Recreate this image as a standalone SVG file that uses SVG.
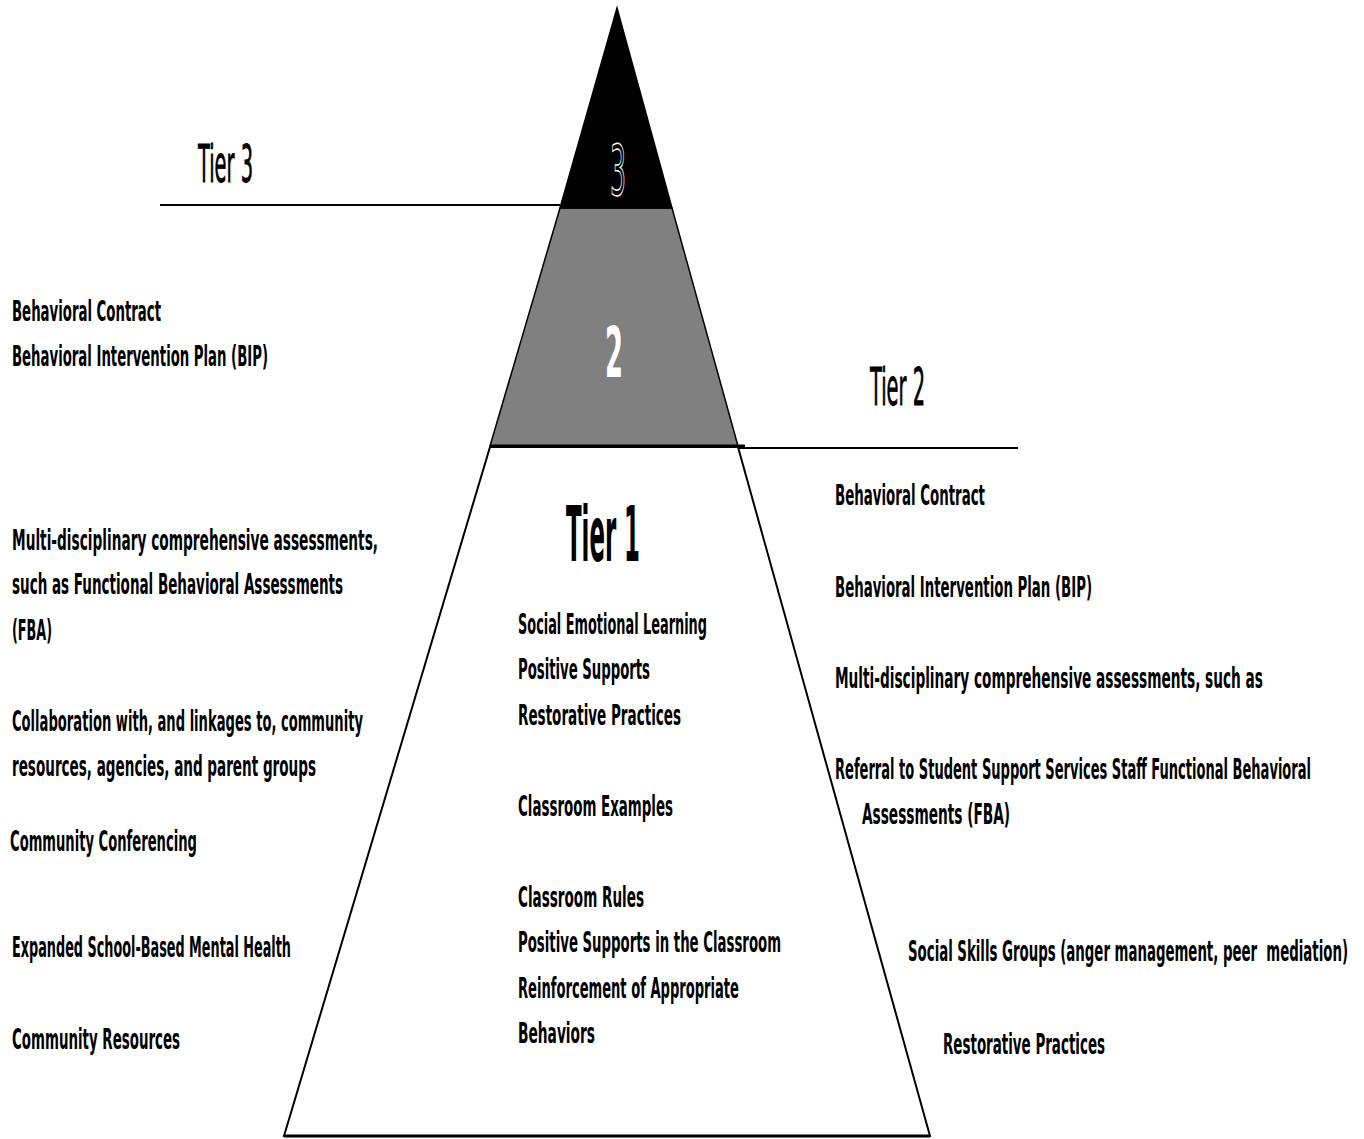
<svg xmlns="http://www.w3.org/2000/svg" width="1364" height="1139" viewBox="0 0 1364 1139">
<style>
.t{font-family:"DejaVu Sans Condensed","DejaVu Sans",sans-serif;font-weight:bold;font-size:29px;fill:#000}
.big{font-family:"DejaVu Sans Condensed","DejaVu Sans",sans-serif;font-weight:bold;fill:#000}
.mid{font-family:"DejaVu Sans Condensed","DejaVu Sans",sans-serif;font-weight:normal;fill:#000}
.ln{stroke:#000;fill:none}
</style>
<rect width="1364" height="1139" fill="#fff"/>
<g id="pyramid">
<g id="tier1-shape"><polygon points="490,447 738,447 930,1136 284,1136" fill="#fff" stroke="#000" stroke-width="2"/><line class="ln" x1="284" y1="1136" x2="930" y2="1136" stroke-width="3"/></g>
<g id="tier2-shape"><polygon points="560,208 672,208 738,446 490,446" fill="#808080" stroke="#000" stroke-width="1.5"/><line class="ln" x1="490" y1="446" x2="745" y2="446" stroke-width="3"/></g>
<g id="tier3-shape"><polygon points="617,8 672,208 560,208" fill="#000" stroke="#000" stroke-width="1.5"/></g>
<text transform="translate(618,195) scale(0.5,1)" text-anchor="middle" class="mid" font-size="70" textLength="32" lengthAdjust="spacingAndGlyphs" fill="#000" stroke="#fff" stroke-width="1.5">3</text>
<text transform="translate(614,377) scale(0.5,1)" text-anchor="middle" class="big" font-size="70" textLength="36" lengthAdjust="spacingAndGlyphs" style="fill:#fff">2</text>
</g>
<g id="connectors">
<line class="ln" x1="160" y1="205" x2="560" y2="205" stroke-width="2"/>
<line class="ln" x1="738" y1="448" x2="1018" y2="448" stroke-width="2"/>
</g>
<g id="tier-labels">
<text class="mid" transform="translate(198,182) scale(0.5,1)" font-size="52" textLength="110" lengthAdjust="spacingAndGlyphs" stroke="#000" stroke-width="0.8">Tier 3</text>
<text class="mid" transform="translate(870,405) scale(0.5,1)" font-size="52" textLength="110" lengthAdjust="spacingAndGlyphs" stroke="#000" stroke-width="0.8">Tier 2</text>
<text class="big" transform="translate(566,561) scale(0.5,1)" font-size="76" textLength="148" lengthAdjust="spacingAndGlyphs">Tier 1</text>
</g>
<g id="left-list">
<text class="t" transform="translate(12,321) scale(0.5,1)" textLength="298" lengthAdjust="spacingAndGlyphs">Behavioral Contract</text>
<text class="t" transform="translate(12,366) scale(0.5,1)" textLength="512" lengthAdjust="spacingAndGlyphs">Behavioral Intervention Plan (BIP)</text>
<text class="t" transform="translate(12,550) scale(0.5,1)" textLength="732" lengthAdjust="spacingAndGlyphs">Multi-disciplinary comprehensive assessments,</text>
<text class="t" transform="translate(12,594) scale(0.5,1)" textLength="662" lengthAdjust="spacingAndGlyphs">such as Functional Behavioral Assessments</text>
<text class="t" transform="translate(12,640) scale(0.5,1)" textLength="80" lengthAdjust="spacingAndGlyphs">(FBA)</text>
<text class="t" transform="translate(12,731) scale(0.5,1)" textLength="702" lengthAdjust="spacingAndGlyphs">Collaboration with, and linkages to, community</text>
<text class="t" transform="translate(12,776) scale(0.5,1)" textLength="608" lengthAdjust="spacingAndGlyphs">resources, agencies, and parent groups</text>
<text class="t" transform="translate(10,851) scale(0.5,1)" textLength="374" lengthAdjust="spacingAndGlyphs">Community Conferencing</text>
<text class="t" transform="translate(12,957) scale(0.5,1)" textLength="558" lengthAdjust="spacingAndGlyphs">Expanded School-Based Mental Health</text>
<text class="t" transform="translate(12,1049) scale(0.5,1)" textLength="336" lengthAdjust="spacingAndGlyphs">Community Resources</text>
</g>
<g id="tier1-list">
<text class="t" transform="translate(518,634) scale(0.5,1)" textLength="378" lengthAdjust="spacingAndGlyphs">Social Emotional Learning</text>
<text class="t" transform="translate(518,679) scale(0.5,1)" textLength="264" lengthAdjust="spacingAndGlyphs">Positive Supports</text>
<text class="t" transform="translate(518,725) scale(0.5,1)" textLength="326" lengthAdjust="spacingAndGlyphs">Restorative Practices</text>
<text class="t" transform="translate(518,816) scale(0.5,1)" textLength="310" lengthAdjust="spacingAndGlyphs">Classroom Examples</text>
<text class="t" transform="translate(518,907) scale(0.5,1)" textLength="252" lengthAdjust="spacingAndGlyphs">Classroom Rules</text>
<text class="t" transform="translate(518,952) scale(0.5,1)" textLength="526" lengthAdjust="spacingAndGlyphs">Positive Supports in the Classroom</text>
<text class="t" transform="translate(518,998) scale(0.5,1)" textLength="442" lengthAdjust="spacingAndGlyphs">Reinforcement of Appropriate</text>
<text class="t" transform="translate(518,1043) scale(0.5,1)" textLength="154" lengthAdjust="spacingAndGlyphs">Behaviors</text>
</g>
<g id="right-list">
<text class="t" transform="translate(835,505) scale(0.5,1)" textLength="300" lengthAdjust="spacingAndGlyphs">Behavioral Contract</text>
<text class="t" transform="translate(835,597) scale(0.5,1)" textLength="514" lengthAdjust="spacingAndGlyphs">Behavioral Intervention Plan (BIP)</text>
<text class="t" transform="translate(835,688) scale(0.5,1)" textLength="856" lengthAdjust="spacingAndGlyphs">Multi-disciplinary comprehensive assessments, such as</text>
<text class="t" transform="translate(835,779) scale(0.5,1)" textLength="952" lengthAdjust="spacingAndGlyphs">Referral to Student Support Services Staff Functional Behavioral</text>
<text class="t" transform="translate(862,824) scale(0.5,1)" textLength="296" lengthAdjust="spacingAndGlyphs">Assessments (FBA)</text>
<text class="t" transform="translate(908,961) scale(0.5,1)" textLength="880" lengthAdjust="spacingAndGlyphs" xml:space="preserve">Social Skills Groups (anger management, peer  mediation)</text>
<text class="t" transform="translate(943,1054) scale(0.5,1)" textLength="324" lengthAdjust="spacingAndGlyphs">Restorative Practices</text>
</g>
</svg>
